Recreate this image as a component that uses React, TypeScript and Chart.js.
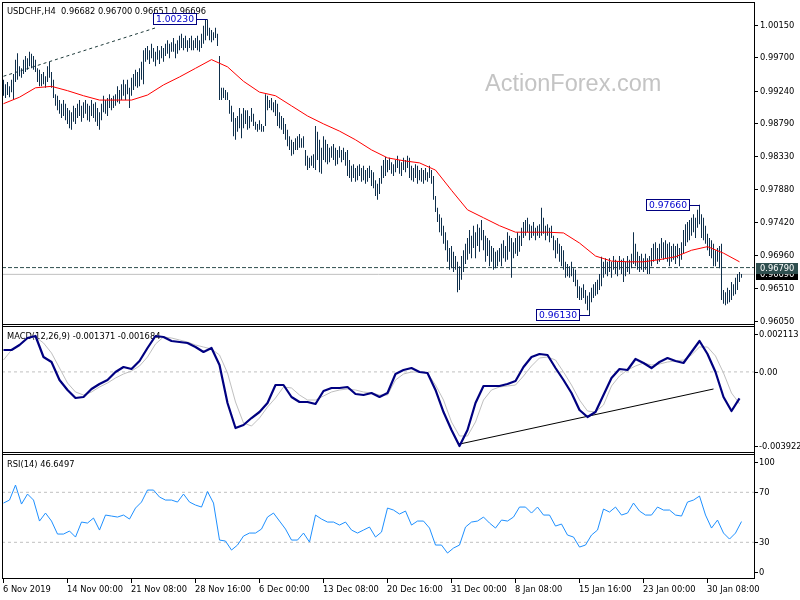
import React, { useEffect, useRef } from 'react';
import { Chart, registerables } from 'chart.js';

Chart.register(...registerables);

// ---------------- data ----------------
const title = 'USDCHF,H4  0.96682 0.96700 0.96651 0.96696';
const macdTitle = 'MACD(12,26,9) -0.001371 -0.001684';
const rsiTitle = 'RSI(14) 46.6497';
const watermark = 'ActionForex.com';

// H4 bars (high / low), one per bar index
const barHighs = [
  0.9939, 0.9933, 0.9936, 0.9930, 0.9939, 0.9947, 0.9967, 0.9976, 0.9958, 0.9955,
  0.9967, 0.9972, 0.9969, 0.9978, 0.9975, 0.9972, 0.9967, 0.9955, 0.9953, 0.9947,
  0.9950, 0.9944, 0.9958, 0.9964, 0.9950, 0.9939, 0.9919, 0.9917, 0.9911, 0.9906,
  0.9911, 0.9906, 0.9900, 0.9897, 0.9894, 0.9903, 0.9900, 0.9906, 0.9911, 0.9903,
  0.9908, 0.9911, 0.9906, 0.9903, 0.9911, 0.9906, 0.9908, 0.9900, 0.9894, 0.9906,
  0.9917, 0.9911, 0.9914, 0.9919, 0.9914, 0.9917, 0.9919, 0.9930, 0.9925, 0.9933,
  0.9939, 0.9933, 0.9939, 0.9928, 0.9942, 0.9947, 0.9953, 0.9950, 0.9955, 0.9964,
  0.9980, 0.9983, 0.9986, 0.9980, 0.9989, 0.9983, 0.9978, 0.9986, 0.9980, 0.9986,
  0.9983, 0.9989, 0.9994, 0.9989, 0.9991, 0.9997, 0.9989, 0.9994, 1.0000, 1.0003,
  0.9997, 1.0000, 0.9994, 0.9997, 1.0000, 0.9994, 0.9997, 1.0000, 0.9994, 1.0003,
  1.0014, 1.0022, 1.0023, 1.0011, 1.0008, 1.0005, 1.0011, 1.0003, 0.9972, 0.9928,
  0.9928, 0.9925, 0.9922, 0.9911, 0.9903, 0.9894, 0.9886, 0.9889, 0.9900, 0.9892,
  0.9900, 0.9897, 0.9897, 0.9889, 0.9900, 0.9892, 0.9881, 0.9878, 0.9883, 0.9878,
  0.9875, 0.9919, 0.9917, 0.9911, 0.9914, 0.9908, 0.9911, 0.9906, 0.9894, 0.9889,
  0.9886, 0.9878, 0.9870, 0.9861, 0.9856, 0.9853, 0.9858, 0.9861, 0.9864, 0.9858,
  0.9861, 0.9842, 0.9834, 0.9831, 0.9834, 0.9836, 0.9875, 0.9867, 0.9856, 0.9845,
  0.9861, 0.9856, 0.9850, 0.9845, 0.9847, 0.9850, 0.9845, 0.9842, 0.9847, 0.9842,
  0.9845, 0.9839, 0.9842, 0.9828, 0.9820, 0.9822, 0.9817, 0.9820, 0.9822, 0.9817,
  0.9820, 0.9814, 0.9817, 0.9820, 0.9814, 0.9811, 0.9800, 0.9795, 0.9803, 0.9820,
  0.9828, 0.9832, 0.9828, 0.9831, 0.9825, 0.9822, 0.9828, 0.9834, 0.9828, 0.9825,
  0.9831, 0.9828, 0.9834, 0.9831, 0.9820, 0.9817, 0.9822, 0.9820, 0.9814, 0.9817,
  0.9814, 0.9817, 0.9811, 0.9820, 0.9814, 0.9806, 0.9778, 0.9762, 0.9753, 0.9748,
  0.9737, 0.9728, 0.9717, 0.9706, 0.9709, 0.9701, 0.9695, 0.9687, 0.9681, 0.9695,
  0.9703, 0.9712, 0.9720, 0.9731, 0.9723, 0.9737, 0.9728, 0.9739, 0.9734, 0.9745,
  0.9731, 0.9723, 0.9720, 0.9717, 0.9709, 0.9706, 0.9701, 0.9703, 0.9706, 0.9712,
  0.9717, 0.9709, 0.9728, 0.9723, 0.9720, 0.9714, 0.9720, 0.9728, 0.9723, 0.9734,
  0.9742, 0.9745, 0.9748, 0.9739, 0.9737, 0.9742, 0.9734, 0.9737, 0.9739, 0.9762,
  0.9748, 0.9737, 0.9739, 0.9734, 0.9737, 0.9723, 0.9717, 0.9720, 0.9712, 0.9709,
  0.9703, 0.9687, 0.9684, 0.9681, 0.9687, 0.9678, 0.9676, 0.9662, 0.9653, 0.9651,
  0.9656, 0.9648, 0.9640, 0.9645, 0.9651, 0.9656, 0.9659, 0.9662, 0.9670, 0.9694,
  0.9687, 0.9692, 0.9687, 0.9692, 0.9687, 0.9695, 0.9690, 0.9687, 0.9695, 0.9690,
  0.9692, 0.9687, 0.9695, 0.9690, 0.9698, 0.9728, 0.9712, 0.9701, 0.9695, 0.9698,
  0.9692, 0.9698, 0.9692, 0.9695, 0.9706, 0.9712, 0.9714, 0.9706, 0.9712, 0.9720,
  0.9714, 0.9717, 0.9712, 0.9714, 0.9709, 0.9712, 0.9709, 0.9712, 0.9706, 0.9714,
  0.9731, 0.9739, 0.9742, 0.9745, 0.9748, 0.9753, 0.9748, 0.9759, 0.9766, 0.9753,
  0.9748, 0.9737, 0.9726, 0.9720, 0.9717, 0.9712, 0.9703, 0.9706, 0.9709, 0.9712,
  0.9648, 0.9645, 0.9651, 0.9648, 0.9659, 0.9656, 0.9665, 0.9670, 0.9673, 0.9670,
];
const barLows = [
  0.9917, 0.9914, 0.9918, 0.9915, 0.9922, 0.9911, 0.9936, 0.9939, 0.9944, 0.9942,
  0.9947, 0.9950, 0.9953, 0.9958, 0.9955, 0.9953, 0.9950, 0.9936, 0.9930, 0.9930,
  0.9933, 0.9928, 0.9936, 0.9942, 0.9928, 0.9914, 0.9903, 0.9897, 0.9892, 0.9886,
  0.9889, 0.9883, 0.9878, 0.9872, 0.9870, 0.9881, 0.9878, 0.9886, 0.9889, 0.9881,
  0.9886, 0.9892, 0.9883, 0.9881, 0.9889, 0.9886, 0.9881, 0.9875, 0.9870, 0.9883,
  0.9894, 0.9892, 0.9889, 0.9900, 0.9897, 0.9900, 0.9903, 0.9908, 0.9906, 0.9911,
  0.9917, 0.9911, 0.9919, 0.9900, 0.9917, 0.9925, 0.9930, 0.9928, 0.9930, 0.9939,
  0.9933, 0.9964, 0.9967, 0.9961, 0.9969, 0.9964, 0.9958, 0.9967, 0.9961, 0.9969,
  0.9964, 0.9972, 0.9975, 0.9969, 0.9978, 0.9978, 0.9969, 0.9975, 0.9980, 0.9983,
  0.9980, 0.9983, 0.9978, 0.9983, 0.9980, 0.9980, 0.9983, 0.9980, 0.9978, 0.9983,
  0.9989, 0.9994, 1.0000, 0.9994, 0.9991, 0.9994, 0.9997, 0.9986, 0.9911, 0.9911,
  0.9914, 0.9911, 0.9911, 0.9892, 0.9881, 0.9861, 0.9856, 0.9867, 0.9872, 0.9858,
  0.9872, 0.9878, 0.9870, 0.9872, 0.9881, 0.9875, 0.9870, 0.9867, 0.9870, 0.9867,
  0.9867, 0.9875, 0.9897, 0.9900, 0.9897, 0.9894, 0.9889, 0.9875, 0.9872, 0.9870,
  0.9864, 0.9856, 0.9847, 0.9842, 0.9834, 0.9836, 0.9842, 0.9842, 0.9845, 0.9845,
  0.9845, 0.9820, 0.9814, 0.9817, 0.9820, 0.9817, 0.9814, 0.9828, 0.9811, 0.9809,
  0.9828, 0.9825, 0.9822, 0.9825, 0.9831, 0.9828, 0.9820, 0.9822, 0.9831, 0.9825,
  0.9828, 0.9820, 0.9806, 0.9803, 0.9798, 0.9803, 0.9798, 0.9800, 0.9806, 0.9798,
  0.9800, 0.9795, 0.9798, 0.9803, 0.9792, 0.9789, 0.9778, 0.9773, 0.9781, 0.9795,
  0.9803, 0.9806, 0.9811, 0.9814, 0.9809, 0.9806, 0.9811, 0.9817, 0.9809, 0.9806,
  0.9814, 0.9811, 0.9817, 0.9803, 0.9800, 0.9798, 0.9803, 0.9795, 0.9800, 0.9798,
  0.9795, 0.9800, 0.9798, 0.9803, 0.9795, 0.9773, 0.9756, 0.9742, 0.9728, 0.9723,
  0.9712, 0.9703, 0.9687, 0.9676, 0.9678, 0.9673, 0.9676, 0.9645, 0.9648, 0.9662,
  0.9673, 0.9684, 0.9690, 0.9698, 0.9692, 0.9706, 0.9692, 0.9709, 0.9701, 0.9717,
  0.9703, 0.9687, 0.9695, 0.9681, 0.9687, 0.9676, 0.9678, 0.9681, 0.9687, 0.9681,
  0.9692, 0.9687, 0.9690, 0.9701, 0.9665, 0.9692, 0.9698, 0.9695, 0.9701, 0.9709,
  0.9720, 0.9723, 0.9728, 0.9717, 0.9720, 0.9723, 0.9717, 0.9723, 0.9720, 0.9723,
  0.9726, 0.9717, 0.9723, 0.9714, 0.9720, 0.9703, 0.9692, 0.9698, 0.9687, 0.9681,
  0.9676, 0.9665, 0.9667, 0.9665, 0.9667, 0.9659, 0.9653, 0.9637, 0.9634, 0.9634,
  0.9637, 0.9629, 0.9620, 0.9613, 0.9631, 0.9637, 0.9640, 0.9642, 0.9648, 0.9653,
  0.9665, 0.9670, 0.9667, 0.9673, 0.9665, 0.9676, 0.9670, 0.9667, 0.9676, 0.9670,
  0.9659, 0.9667, 0.9673, 0.9670, 0.9678, 0.9684, 0.9681, 0.9676, 0.9673, 0.9676,
  0.9673, 0.9676, 0.9670, 0.9670, 0.9681, 0.9687, 0.9690, 0.9684, 0.9687, 0.9692,
  0.9690, 0.9692, 0.9687, 0.9681, 0.9687, 0.9690, 0.9684, 0.9692, 0.9681, 0.9690,
  0.9698, 0.9709, 0.9714, 0.9717, 0.9723, 0.9728, 0.9720, 0.9734, 0.9739, 0.9720,
  0.9717, 0.9712, 0.9703, 0.9695, 0.9692, 0.9681, 0.9681, 0.9687, 0.9678, 0.9634,
  0.9629, 0.9627, 0.9629, 0.9631, 0.9634, 0.9640, 0.9642, 0.9648, 0.9659, 0.9665,
];

// moving average, one value every maStep bars
const maStep = 8;
const maValues = [
  0.9906, 0.9915, 0.9928, 0.9930, 0.9924, 0.9917, 0.9911, 0.9911, 0.9911, 0.9918,
  0.9932, 0.9943, 0.9955, 0.9967, 0.9957, 0.9937, 0.9922, 0.9917, 0.9903, 0.9889,
  0.9878, 0.9868, 0.9856, 0.9842, 0.9831, 0.9827, 0.9824, 0.9814, 0.9786, 0.9759,
  0.9748, 0.9737, 0.9728, 0.9728, 0.9728, 0.9727, 0.9713, 0.9695, 0.9688, 0.9687,
  0.9687, 0.9690, 0.9694, 0.9703, 0.9708, 0.9699, 0.9687,
];

// MACD(12,26,9), one value every macdStep bars
const macdStep = 4;
const macdMain = [
  0.001159, 0.001159, 0.001424, 0.001795, 0.001901, 0.000789, 0.000524, -0.000429, -0.000958, -0.001382,
  -0.001329, -0.000905, -0.000641, -0.000429, -0.000005, 0.000259, 0.000154, 0.000577, 0.001265, 0.001901,
  0.001848, 0.001636, 0.001583, 0.00153, 0.001318, 0.001054, 0.001265, 0.000365, -0.001646, -0.00297,
  -0.002811, -0.002441, -0.002123, -0.001646, -0.000694, -0.000694, -0.001329, -0.001593, -0.001593, -0.001699,
  -0.001011, -0.000852, -0.000852, -0.000799, -0.00117, -0.001223, -0.001117, -0.001329, -0.001117, -0.000111,
  0.000101, 0.000206, -0.000005, -0.000058, -0.000958, -0.002123, -0.003076, -0.003922, -0.003076, -0.001646,
  -0.000746, -0.000746, -0.000746, -0.000641, -0.000482, 0.000259, 0.000789, 0.000948, 0.000895, 0.000206,
  -0.000429, -0.001117, -0.002017, -0.002388, -0.002123, -0.001223, -0.000323, 0.000154, 0.000101, 0.000683,
  0.000471, 0.000206, 0.000524, 0.000736, 0.000577, 0.000471, 0.001054, 0.001636, 0.000948, -0.000005,
  -0.001329, -0.00207, -0.0014,
];
const macdSignal = [
  0.00063, 0.001159, 0.001424, 0.001795, 0.001848, 0.00153, 0.001001, 0.000206, -0.000588, -0.001064,
  -0.001223, -0.001064, -0.000799, -0.000588, -0.000323, -0.000111, 0.000048, 0.000312, 0.000789, 0.001477,
  0.001848, 0.001795, 0.001689, 0.001583, 0.001424, 0.001318, 0.001212, 0.000895, -0.000058, -0.001593,
  -0.002705, -0.002864, -0.002441, -0.001858, -0.001382, -0.000799, -0.000852, -0.001223, -0.001488, -0.001488,
  -0.001276, -0.001064, -0.000958, -0.000905, -0.000958, -0.001064, -0.001117, -0.001223, -0.001223, -0.000429,
  -0.000111, -0.000005, -0.000005, -0.000058, -0.000694, -0.001488, -0.002652, -0.003393, -0.003393, -0.002652,
  -0.001488, -0.000958, -0.000799, -0.000746, -0.000694, -0.000217, 0.000312, 0.000736, 0.000789, 0.00063,
  -0.000005, -0.000694, -0.001488, -0.00207, -0.002123, -0.001752, -0.000746, -0.000217, 0.000101, 0.000312,
  0.000471, 0.000365, 0.000418, 0.000524, 0.000577, 0.00063, 0.000895, 0.001318, 0.001318, 0.000842,
  -0.000058, -0.001117, -0.001684,
];

// RSI(14), one value every rsiStep bars
const rsiStep = 3;
const rsiValues = [
  61.4, 63.8, 75.8, 60.6, 68.6, 63.8, 47.0, 53.4, 47.0, 36.6,
  36.6, 39.0, 34.2, 46.2, 45.4, 49.4, 39.8, 51.8, 51.0, 50.2,
  51.8, 48.6, 57.4, 62.2, 71.8, 71.8, 66.2, 63.8, 63.8, 62.2,
  68.6, 62.2, 59.8, 58.2, 70.6, 61.4, 31.8, 31.0, 23.8, 27.8,
  35.0, 37.4, 37.4, 40.6, 50.2, 53.4, 47.0, 40.6, 31.8, 31.8,
  37.4, 30.2, 51.8, 48.6, 46.2, 46.2, 43.8, 46.2, 39.8, 37.4,
  39.8, 42.2, 34.2, 38.2, 57.4, 55.8, 52.6, 55.0, 43.8, 47.0,
  47.0, 41.4, 27.8, 27.8, 21.4, 25.4, 27.8, 42.2, 46.2, 47.0,
  50.2, 45.4, 41.4, 47.8, 47.0, 50.2, 58.2, 58.2, 53.4, 58.2,
  51.8, 51.8, 43.0, 44.6, 35.8, 34.2, 26.2, 27.8, 35.8, 39.8,
  56.6, 54.2, 58.2, 51.8, 53.4, 61.4, 55.0, 51.8, 51.8, 58.2,
  55.8, 55.8, 51.8, 51.0, 62.2, 63.8, 67.0, 51.8, 41.4, 47.8,
  37.4, 32.6, 37.4, 46.6,
];

const priceTicks = [1.0015, 0.997, 0.9924, 0.9879, 0.9833, 0.9788, 0.9742, 0.9696, 0.9651, 0.9605];
const macdTicks = [0.002113, 0, -0.003922];
const macdTickLabels = ['0.002113', '0.00', '-0.003922'];
const rsiTicks = [100, 70, 30, 0];
const rsiLevels = [70, 30];
const timeTickIndex = [0, 32, 64, 96, 128, 160, 192, 224, 256, 288, 320, 352];
const timeTickLabels = [
  '6 Nov 2019', '14 Nov 00:00', '21 Nov 08:00', '28 Nov 16:00', '6 Dec 00:00', '13 Dec 08:00',
  '20 Dec 16:00', '31 Dec 00:00', '8 Jan 08:00', '15 Jan 16:00', '23 Jan 00:00', '30 Jan 08:00',
];
const supportLevel = 0.9679;
const bidPrice = 0.96696;
const priceTrendIdx = [0, 76];
const priceTrendVals = [0.9944, 1.0011];
const macdTrendIdx = [228, 355];
const macdTrendVals = [-0.00382, -0.000905];
const markIdx = [102, 348, 293];
const markPrice = [1.0023, 0.9766, 0.9613];

// ---------------- view ----------------
const X_MIN = -0.75;
const X_MAX = 375.75;
const PRICE_MIN = 0.9599475;
const PRICE_MAX = 1.004683;
const MACD_MIN = -0.0042932;
const MACD_MAX = 0.0024298;
const RSI_MIN = 0.64;
const RSI_MAX = 100.64;

const FONT = '8.3px "DejaVu Sans", sans-serif';
const BAR_COLOR = '#0F2F4B';

function whiteBg(chart: any) {
  const { ctx, width, height } = chart;
  ctx.save();
  ctx.fillStyle = '#ffffff';
  ctx.fillRect(0, 0, width, height);
  ctx.restore();
}

function drawFrame(chart: any, y0: number, y1: number) {
  const { ctx, chartArea: a } = chart;
  ctx.save();
  ctx.strokeStyle = '#000';
  ctx.lineWidth = 1;
  ctx.setLineDash([]);
  ctx.strokeRect(a.left + 0.5, a.top + 0.5, a.right - a.left - 1, a.bottom - a.top - 1);
  ctx.beginPath();
  ctx.moveTo(a.left + 0.5, y0);
  ctx.lineTo(a.left + 0.5, y1);
  ctx.moveTo(a.right - 0.5, y0);
  ctx.lineTo(a.right - 0.5, y1);
  ctx.stroke();
  ctx.restore();
}

function drawRightLabels(chart: any, values: number[], labels: string[], clamp: boolean, dx: number) {
  const { ctx, chartArea: a } = chart;
  const ys = chart.scales.y;
  ctx.save();
  ctx.font = FONT;
  ctx.fillStyle = '#000';
  ctx.strokeStyle = '#000';
  ctx.lineWidth = 1;
  ctx.textAlign = 'left';
  ctx.textBaseline = 'middle';
  values.forEach((v, i) => {
    let y = ys.getPixelForValue(v);
    if (clamp) y = Math.min(Math.max(y, a.top + 7.5), a.bottom - 7);
    const yy = Math.round(y) + 0.5;
    ctx.beginPath();
    ctx.moveTo(a.right, yy);
    ctx.lineTo(a.right + 3, yy);
    ctx.stroke();
    ctx.fillText(labels[i], a.right + dx, yy);
  });
  ctx.restore();
}

const mainDecor = {
  id: 'mainDecor',
  beforeDraw: whiteBg,
  beforeDatasetsDraw(chart: any) {
    const { ctx } = chart;
    ctx.save();
    ctx.font = '23.5px "Liberation Sans", Arial, sans-serif';
    ctx.fillStyle = '#C4C4C4';
    ctx.textBaseline = 'alphabetic';
    ctx.textAlign = 'left';
    ctx.fillText(watermark, 485, 90.5);
    ctx.font = FONT;
    ctx.fillStyle = '#000';
    ctx.fillText(title, 7, 14);
    ctx.restore();
  },
  afterDatasetsDraw(chart: any) {
    const { ctx } = chart;
    const xs = chart.scales.x;
    const ys = chart.scales.y;
    ctx.save();
    ctx.font = '9.2px "DejaVu Sans", sans-serif';
    ctx.lineWidth = 1;
    markIdx.forEach((idx, i) => {
      const text = markPrice[i].toFixed(5);
      const barX = Math.round(xs.getPixelForValue(idx));
      const y = Math.round(ys.getPixelForValue(markPrice[i]));
      const right = barX - 10;
      const w = Math.ceil(ctx.measureText(text).width) + 6;
      const h = 12;
      ctx.fillStyle = '#fff';
      ctx.fillRect(right - w, y - 6, w, h);
      ctx.strokeStyle = '#000080';
      ctx.strokeRect(right - w + 0.5, y - 6 + 0.5, w - 1, h - 1);
      ctx.beginPath();
      ctx.moveTo(right, y + 0.5);
      ctx.lineTo(barX, y + 0.5);
      ctx.stroke();
      ctx.fillStyle = '#0000CD';
      ctx.textAlign = 'left';
      ctx.textBaseline = 'middle';
      ctx.fillText(text, right - w + 3, y + 0.5);
    });
    ctx.restore();
  },
  afterDraw(chart: any) {
    drawFrame(chart, 2.5, chart.height);
    drawRightLabels(chart, priceTicks, priceTicks.map((v) => v.toFixed(5)), false, 5);
    const { ctx, chartArea: a } = chart;
    const ys = chart.scales.y;
    ctx.save();
    ctx.font = FONT;
    ctx.textAlign = 'left';
    ctx.textBaseline = 'middle';
    const tag = (v: number, bg: string) => {
      const y = Math.round(ys.getPixelForValue(v));
      ctx.fillStyle = bg;
      ctx.fillRect(a.right + 1, y - 5, 42, 11);
      ctx.fillStyle = '#fff';
      ctx.fillText(v.toFixed(5), a.right + 5, y + 0.5);
    };
    tag(bidPrice, '#000000');
    tag(supportLevel, '#2F4F4F');
    ctx.restore();
  },
};

const macdDecor = {
  id: 'macdDecor',
  beforeDraw: whiteBg,
  beforeDatasetsDraw(chart: any) {
    const { ctx } = chart;
    ctx.save();
    ctx.font = FONT;
    ctx.fillStyle = '#000';
    ctx.textAlign = 'left';
    ctx.textBaseline = 'alphabetic';
    ctx.fillText(macdTitle, 7, 13);
    ctx.restore();
  },
  afterDraw(chart: any) {
    drawFrame(chart, 0, chart.height);
    drawRightLabels(chart, macdTicks, macdTickLabels, true, 4);
  },
};

const rsiDecor = {
  id: 'rsiDecor',
  beforeDraw: whiteBg,
  beforeDatasetsDraw(chart: any) {
    const { ctx } = chart;
    ctx.save();
    ctx.font = FONT;
    ctx.fillStyle = '#000';
    ctx.textAlign = 'left';
    ctx.textBaseline = 'alphabetic';
    ctx.fillText(rsiTitle, 7, 13);
    ctx.restore();
  },
  afterDraw(chart: any) {
    const { ctx, chartArea: a } = chart;
    drawFrame(chart, 0, a.bottom - 0.5);
    drawRightLabels(chart, rsiTicks, rsiTicks.map((v) => String(v)), true, 4);
    const xs = chart.scales.x;
    ctx.save();
    ctx.font = FONT;
    ctx.fillStyle = '#000';
    ctx.strokeStyle = '#000';
    ctx.lineWidth = 1;
    ctx.textAlign = 'left';
    ctx.textBaseline = 'alphabetic';
    timeTickIndex.forEach((idx, i) => {
      const x = Math.floor(xs.getPixelForValue(idx)) + 0.5;
      ctx.beginPath();
      ctx.moveTo(x, a.bottom);
      ctx.lineTo(x, a.bottom + 4);
      ctx.stroke();
      ctx.fillText(timeTickLabels[i], x - 0.5, a.bottom + 13);
    });
    ctx.restore();
  },
};

const xScale = { type: 'linear', min: X_MIN, max: X_MAX, display: false, offset: false, bounds: 'data' };
const yScale = (min: number, max: number) => ({ type: 'linear', min, max, display: false, bounds: 'data' });

const baseOptions = (padding: any, yMin: number, yMax: number) => ({
  animation: false,
  responsive: false,
  maintainAspectRatio: false,
  devicePixelRatio: 1,
  events: [],
  layout: { padding },
  plugins: { legend: { display: false }, tooltip: { enabled: false }, title: { display: false } },
  scales: { x: xScale, y: yScale(yMin, yMax) },
});

const lineDs = (label: string, data: any[], color: string, width: number, order: number, dash: number[] = []) => ({
  type: 'line',
  label,
  data,
  borderColor: color,
  backgroundColor: color,
  borderWidth: width,
  borderDash: dash,
  pointRadius: 0,
  fill: false,
  tension: 0,
  order,
  borderJoinStyle: 'round',
  borderCapStyle: 'butt',
});

function mainConfig(): any {
  return {
    type: 'bar',
    data: {
      datasets: [
        lineDs('MA', maValues.map((v, i) => ({ x: i * maStep, y: v })), '#FF0000', 1, 0),
        {
          type: 'bar',
          label: 'USDCHF',
          data: barHighs.map((h, i) => ({ x: i, y: [barLows[i], h] })),
          backgroundColor: BAR_COLOR,
          borderWidth: 0,
          barThickness: 1,
          inflateAmount: 0,
          order: 1,
        },
        lineDs('Trend', priceTrendIdx.map((x, i) => ({ x, y: priceTrendVals[i] })), '#1E3A3A', 1, 2, [3, 3]),
        lineDs('Support', [{ x: X_MIN, y: supportLevel }, { x: X_MAX, y: supportLevel }], '#2F4F4F', 1, 3, [4, 2]),
        lineDs('Bid', [{ x: X_MIN, y: bidPrice }, { x: X_MAX, y: bidPrice }], '#C0C0C0', 1, 4),
      ],
    },
    options: baseOptions({ left: 2, right: 45, top: 2, bottom: 1 }, PRICE_MIN, PRICE_MAX),
    plugins: [mainDecor],
  };
}

function macdConfig(): any {
  return {
    type: 'line',
    data: {
      datasets: [
        lineDs('MACD', macdMain.map((v, i) => ({ x: i * macdStep, y: v })), '#000080', 2.2, 0),
        lineDs('Signal', macdSignal.map((v, i) => ({ x: i * macdStep, y: v })), '#C0C0C0', 1, 1),
        lineDs('Trend', macdTrendIdx.map((x, i) => ({ x, y: macdTrendVals[i] })), '#000000', 1, 2),
        lineDs('Zero', [{ x: X_MIN, y: 0 }, { x: X_MAX, y: 0 }], '#C0C0C0', 1, 3, [3, 3]),
      ],
    },
    options: baseOptions({ left: 2, right: 45, top: 0, bottom: 1 }, MACD_MIN, MACD_MAX),
    plugins: [macdDecor],
  };
}

function rsiConfig(): any {
  return {
    type: 'line',
    data: {
      datasets: [
        lineDs('RSI', rsiValues.map((v, i) => ({ x: i * rsiStep, y: v })), '#1E90FF', 1, 0),
        ...rsiLevels.map((lv, i) =>
          lineDs('Level ' + lv, [{ x: X_MIN, y: lv }, { x: X_MAX, y: lv }], '#C0C0C0', 1, 1 + i, [3, 3])
        ),
      ],
    },
    options: baseOptions({ left: 2, right: 45, top: 0, bottom: 21 }, RSI_MIN, RSI_MAX),
    plugins: [rsiDecor],
  };
}

export default function App() {
  const mainRef = useRef<HTMLCanvasElement>(null);
  const macdRef = useRef<HTMLCanvasElement>(null);
  const rsiRef = useRef<HTMLCanvasElement>(null);

  useEffect(() => {
    const charts: Chart[] = [];
    if (mainRef.current) charts.push(new Chart(mainRef.current, mainConfig()));
    if (macdRef.current) charts.push(new Chart(macdRef.current, macdConfig()));
    if (rsiRef.current) charts.push(new Chart(rsiRef.current, rsiConfig()));
    return () => charts.forEach((c) => c.destroy());
  }, []);

  return (
    <div
      style={{
        position: 'fixed',
        left: 0,
        top: 0,
        width: 800,
        height: 600,
        background: '#ffffff',
        overflow: 'hidden',
      }}
    >
      <canvas ref={mainRef} width={800} height={326} style={{ position: 'absolute', left: 0, top: 0, width: 800, height: 326 }} />
      <canvas ref={macdRef} width={800} height={128} style={{ position: 'absolute', left: 0, top: 326, width: 800, height: 128 }} />
      <canvas ref={rsiRef} width={800} height={146} style={{ position: 'absolute', left: 0, top: 454, width: 800, height: 146 }} />
    </div>
  );
}
